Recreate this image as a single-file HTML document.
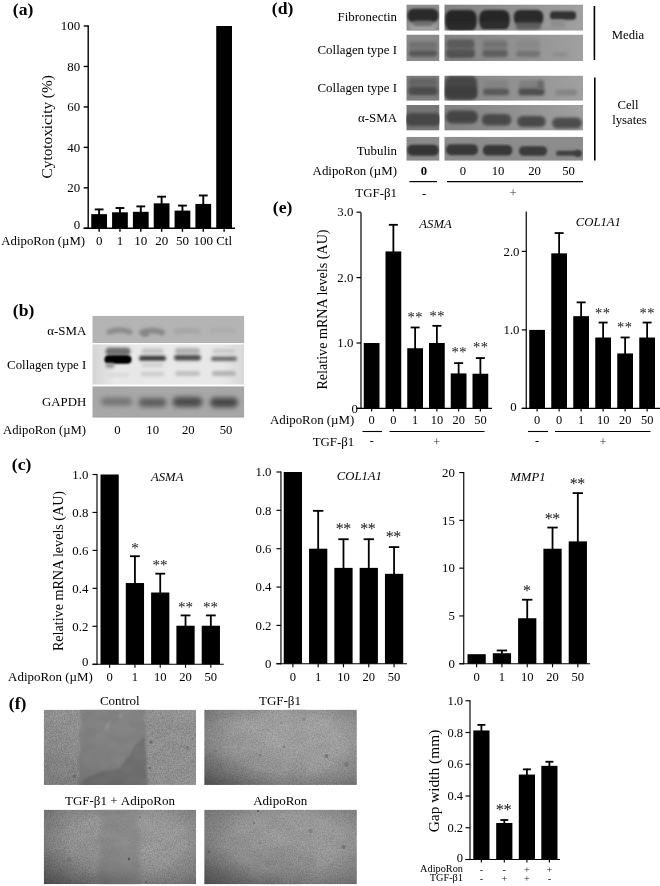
<!DOCTYPE html>
<html lang="en"><head><meta charset="utf-8"><title>AdipoRon figure</title>
<style>html,body{margin:0;padding:0;background:#fff}svg{display:block}text{font-family:'Liberation Serif', 'Times New Roman', serif}</style>
</head><body>
<svg width="660" height="886" viewBox="0 0 660 886">
<defs>
<filter id="b0" x="-50%" y="-50%" width="200%" height="200%"><feGaussianBlur stdDeviation="0.55"/></filter>
<filter id="b1" filterUnits="userSpaceOnUse" x="0" y="0" width="660" height="886"><feGaussianBlur stdDeviation="1.2"/></filter>
<filter id="b2" filterUnits="userSpaceOnUse" x="0" y="0" width="660" height="886"><feGaussianBlur stdDeviation="1.8"/></filter>
<filter id="b3" filterUnits="userSpaceOnUse" x="0" y="0" width="660" height="886"><feGaussianBlur stdDeviation="2.6"/></filter>
<filter id="tex" x="0" y="0" width="100%" height="100%" color-interpolation-filters="sRGB">
  <feTurbulence type="fractalNoise" baseFrequency="0.75" numOctaves="2" seed="3"/>
  <feColorMatrix type="matrix" values="1.6 0 0 0 -0.13  1.6 0 0 0 -0.13  1.6 0 0 0 -0.13  0 0 0 0 1"/>
</filter>
<filter id="tex2" x="0" y="0" width="100%" height="100%" color-interpolation-filters="sRGB">
  <feTurbulence type="fractalNoise" baseFrequency="0.06 0.09" numOctaves="2" seed="11"/>
  <feColorMatrix type="matrix" values="2.2 0 0 0 -0.6  2.2 0 0 0 -0.6  2.2 0 0 0 -0.6  0 0 0 0 1"/>
</filter>
<linearGradient id="mC" x1="0" y1="0" x2="1" y2="0"><stop offset="0" stop-color="#fff"/><stop offset="0.22" stop-color="#fff"/><stop offset="0.27" stop-color="#000"/><stop offset="0.66" stop-color="#000"/><stop offset="0.71" stop-color="#fff"/><stop offset="1" stop-color="#fff"/></linearGradient>
<linearGradient id="gA" x1="0" y1="1" x2="1" y2="0"><stop offset="0" stop-color="#6e6e6e"/><stop offset="0.45" stop-color="#8e8e8e"/><stop offset="1" stop-color="#a2a2a2"/></linearGradient>
<linearGradient id="gB" x1="0" y1="1" x2="1" y2="0"><stop offset="0" stop-color="#6a6a6a"/><stop offset="0.5" stop-color="#8a8a8a"/><stop offset="1" stop-color="#9c9c9c"/></linearGradient>
<linearGradient id="gC" x1="0" y1="0" x2="1" y2="0"><stop offset="0" stop-color="#8c8c8c"/><stop offset="0.28" stop-color="#8a8a8a"/><stop offset="0.34" stop-color="#848484"/><stop offset="0.66" stop-color="#848484"/><stop offset="0.72" stop-color="#8e8e8e"/><stop offset="1" stop-color="#969696"/></linearGradient>
<linearGradient id="gD" x1="0" y1="0" x2="1" y2="0"><stop offset="0" stop-color="#828282"/><stop offset="1" stop-color="#a0a0a0"/></linearGradient>
<linearGradient id="gE" x1="0" y1="0" x2="1" y2="0"><stop offset="0" stop-color="#d4d4d4"/><stop offset="0.15" stop-color="#e8e8e8"/><stop offset="0.85" stop-color="#e8e8e8"/><stop offset="1" stop-color="#d8d8d8"/></linearGradient>
</defs>
<rect width="660" height="886" fill="#fff"/>
<text x="12.8" y="15.2" font-size="17.6" font-weight="bold">(a)</text>
<text x="12.8" y="316" font-size="17.6" font-weight="bold">(b)</text>
<text x="11.8" y="469.8" font-size="17.6" font-weight="bold">(c)</text>
<text x="271.8" y="14.2" font-size="17.6" font-weight="bold">(d)</text>
<text x="272.8" y="212.8" font-size="17.6" font-weight="bold">(e)</text>
<text x="8.8" y="709.3" font-size="17.6" font-weight="bold">(f)</text>
<rect x="91.25" y="214.14" width="15.75" height="14.16" fill="#000"/>
<line x1="99.125" y1="208.87920000000003" x2="99.125" y2="215.139" stroke="#000" stroke-width="1.9"/>
<line x1="94.725" y1="209.4292" x2="103.525" y2="209.4292" stroke="#000" stroke-width="1.9"/>
<line x1="99.125" y1="228.3" x2="99.125" y2="231.8" stroke="#000" stroke-width="1.4"/>
<rect x="112.08" y="212.32" width="15.75" height="15.98" fill="#000"/>
<line x1="119.955" y1="207.4631" x2="119.955" y2="213.31830000000002" stroke="#000" stroke-width="1.9"/>
<line x1="115.55499999999999" y1="208.01309999999998" x2="124.355" y2="208.01309999999998" stroke="#000" stroke-width="1.9"/>
<line x1="119.955" y1="228.3" x2="119.955" y2="231.8" stroke="#000" stroke-width="1.4"/>
<rect x="132.91" y="211.81" width="15.75" height="16.49" fill="#000"/>
<line x1="140.785" y1="205.84470000000002" x2="140.785" y2="212.81255000000002" stroke="#000" stroke-width="1.9"/>
<line x1="136.385" y1="206.3947" x2="145.185" y2="206.3947" stroke="#000" stroke-width="1.9"/>
<line x1="140.785" y1="228.3" x2="140.785" y2="231.8" stroke="#000" stroke-width="1.4"/>
<rect x="153.74" y="203.32" width="15.75" height="24.98" fill="#000"/>
<line x1="161.615" y1="196.1343" x2="161.615" y2="204.31595000000002" stroke="#000" stroke-width="1.9"/>
<line x1="157.215" y1="196.68429999999998" x2="166.01500000000001" y2="196.68429999999998" stroke="#000" stroke-width="1.9"/>
<line x1="161.615" y1="228.3" x2="161.615" y2="231.8" stroke="#000" stroke-width="1.4"/>
<rect x="174.57" y="210.60" width="15.75" height="17.70" fill="#000"/>
<line x1="182.445" y1="205.0355" x2="182.445" y2="211.59875" stroke="#000" stroke-width="1.9"/>
<line x1="178.045" y1="205.5855" x2="186.845" y2="205.5855" stroke="#000" stroke-width="1.9"/>
<line x1="182.445" y1="228.3" x2="182.445" y2="231.8" stroke="#000" stroke-width="1.4"/>
<rect x="195.40" y="203.92" width="15.75" height="24.38" fill="#000"/>
<line x1="203.27499999999998" y1="194.9205" x2="203.27499999999998" y2="204.92285" stroke="#000" stroke-width="1.9"/>
<line x1="198.87499999999997" y1="195.4705" x2="207.67499999999998" y2="195.4705" stroke="#000" stroke-width="1.9"/>
<line x1="203.27499999999998" y1="228.3" x2="203.27499999999998" y2="231.8" stroke="#000" stroke-width="1.4"/>
<rect x="216.23" y="26.00" width="15.75" height="202.30" fill="#000"/>
<line x1="224.105" y1="228.3" x2="224.105" y2="231.8" stroke="#000" stroke-width="1.4"/>
<line x1="88.2" y1="25.3" x2="88.2" y2="229.0" stroke="#000" stroke-width="1.4"/>
<line x1="83.7" y1="228.3" x2="235" y2="228.3" stroke="#000" stroke-width="1.4"/>
<line x1="83.7" y1="228.3" x2="88.2" y2="228.3" stroke="#000" stroke-width="1.4"/>
<text x="80.2" y="228.55700000000002" font-size="12.9" text-anchor="end">0</text>
<line x1="83.7" y1="187.84" x2="88.2" y2="187.84" stroke="#000" stroke-width="1.4"/>
<text x="80.2" y="192.097" font-size="12.9" text-anchor="end">20</text>
<line x1="83.7" y1="147.38" x2="88.2" y2="147.38" stroke="#000" stroke-width="1.4"/>
<text x="80.2" y="151.637" font-size="12.9" text-anchor="end">40</text>
<line x1="83.7" y1="106.92" x2="88.2" y2="106.92" stroke="#000" stroke-width="1.4"/>
<text x="80.2" y="111.177" font-size="12.9" text-anchor="end">60</text>
<line x1="83.7" y1="66.46000000000001" x2="88.2" y2="66.46000000000001" stroke="#000" stroke-width="1.4"/>
<text x="80.2" y="70.71700000000001" font-size="12.9" text-anchor="end">80</text>
<line x1="83.7" y1="26.0" x2="88.2" y2="26.0" stroke="#000" stroke-width="1.4"/>
<text x="80.2" y="30.257" font-size="12.9" text-anchor="end">100</text>
<text x="1.3" y="245.1" font-size="12.8">AdipoRon (µM)</text>
<text x="99.15" y="244.9" font-size="13" text-anchor="middle">0</text>
<text x="119.98" y="244.9" font-size="13" text-anchor="middle">1</text>
<text x="140.81" y="244.9" font-size="13" text-anchor="middle">10</text>
<text x="161.64000000000001" y="244.9" font-size="13" text-anchor="middle">20</text>
<text x="182.47" y="244.9" font-size="13" text-anchor="middle">50</text>
<text x="203.29999999999998" y="244.9" font-size="13" text-anchor="middle">100</text>
<text x="224.13" y="244.9" font-size="13" text-anchor="middle">Ctl</text>
<text x="52.2" y="126.8" font-size="15.3" text-anchor="middle" transform="rotate(-90 52.2 126.8)">Cytotoxicity (%)</text>
<clipPath id="cb1"><rect x="92.3" y="315.7" width="152" height="27.5"/></clipPath>
<g clip-path="url(#cb1)">
<rect x="92.30" y="315.70" width="152.00" height="27.50" fill="#b4b4b4"/>
<path d="M109.2 332.0 Q119.5 328.0 129.8 332.0" stroke="#8c8c8c" stroke-width="5.5" stroke-linecap="round" fill="none" filter="url(#b2)"/>
<path d="M142.0 332.5 Q152.0 328.5 162.0 332.5" stroke="#898989" stroke-width="6" stroke-linecap="round" fill="none" filter="url(#b2)"/>
<path d="M144.5 334.0 Q145.5 334.0 146.5 334.0" stroke="#848484" stroke-width="5" stroke-linecap="round" fill="none" filter="url(#b2)"/>
<path d="M176.2 331.5 Q187.0 329.5 197.8 331.5" stroke="#a6a6a6" stroke-width="5.5" stroke-linecap="round" fill="none" filter="url(#b2)"/>
<path d="M212.2 330.5 Q223.0 329.5 233.8 330.5" stroke="#acacac" stroke-width="4.5" stroke-linecap="round" fill="none" filter="url(#b2)"/>
</g>
<clipPath id="cb2"><rect x="92.3" y="344.2" width="152" height="40.6"/></clipPath>
<g clip-path="url(#cb2)">
<rect x="92.30" y="344.20" width="152.00" height="40.60" fill="url(#gE)"/>
<path d="M109.5 351.5 Q118.0 351.5 126.5 351.5" stroke="#6e6e6e" stroke-width="8" stroke-linecap="round" fill="none" filter="url(#b2)"/>
<path d="M108.5 359.5 Q118.0 359.5 127.5 359.5" stroke="#000" stroke-width="8" stroke-linecap="round" fill="none" filter="url(#b1)"/>
<path d="M109.0 359.5 Q118.0 359.5 127.0 359.5" stroke="#000" stroke-width="6" stroke-linecap="round" fill="none" filter="url(#b1)"/>
<path d="M108.0 365.5 Q110.0 365.5 112.0 365.5" stroke="#999" stroke-width="5" stroke-linecap="round" fill="none" filter="url(#b2)"/>
<path d="M109.0 375.0 Q118.0 375.0 127.0 375.0" stroke="#dadada" stroke-width="4" stroke-linecap="round" fill="none" filter="url(#b2)"/>
<path d="M144.0 351.0 Q152.5 351.0 161.0 351.0" stroke="#c2c2c2" stroke-width="5" stroke-linecap="round" fill="none" filter="url(#b2)"/>
<path d="M141.5 358.3 Q152.5 358.3 163.5 358.3" stroke="#383838" stroke-width="5" stroke-linecap="round" fill="none" filter="url(#b2)"/>
<path d="M143.5 365.0 Q152.5 365.0 161.5 365.0" stroke="#d0d0d0" stroke-width="4" stroke-linecap="round" fill="none" filter="url(#b2)"/>
<path d="M142.8 374.0 Q152.5 374.0 162.2 374.0" stroke="#cecece" stroke-width="4.5" stroke-linecap="round" fill="none" filter="url(#b2)"/>
<path d="M178.0 351.0 Q187.5 351.0 197.0 351.0" stroke="#b0b0b0" stroke-width="6" stroke-linecap="round" fill="none" filter="url(#b2)"/>
<path d="M176.8 357.7 Q187.5 357.7 198.2 357.7" stroke="#4c4c4c" stroke-width="5.5" stroke-linecap="round" fill="none" filter="url(#b2)"/>
<path d="M177.5 373.5 Q187.5 373.5 197.5 373.5" stroke="#c0c0c0" stroke-width="5" stroke-linecap="round" fill="none" filter="url(#b2)"/>
<path d="M215.0 351.0 Q224.0 351.0 233.0 351.0" stroke="#cacaca" stroke-width="5" stroke-linecap="round" fill="none" filter="url(#b2)"/>
<path d="M213.2 358.7 Q224.0 358.7 234.8 358.7" stroke="#6a6a6a" stroke-width="4.5" stroke-linecap="round" fill="none" filter="url(#b2)"/>
<path d="M214.5 373.5 Q224.0 373.5 233.5 373.5" stroke="#b2b2b2" stroke-width="5" stroke-linecap="round" fill="none" filter="url(#b2)"/>
</g>
<clipPath id="cb3"><rect x="92.3" y="386.2" width="152" height="31.6"/></clipPath>
<g clip-path="url(#cb3)">
<rect x="92.30" y="386.20" width="152.00" height="31.60" fill="#a7a7a7"/>
<path d="M104.8 401.5 Q116.5 401.5 128.2 401.5" stroke="#727272" stroke-width="7.5" stroke-linecap="round" fill="none" filter="url(#b3)"/>
<path d="M143.0 402.5 Q152.5 402.5 162.0 402.5" stroke="#5e5e5e" stroke-width="9" stroke-linecap="round" fill="none" filter="url(#b3)"/>
<path d="M177.5 402.0 Q187.5 402.0 197.5 402.0" stroke="#4c4c4c" stroke-width="10" stroke-linecap="round" fill="none" filter="url(#b3)"/>
<path d="M215.0 402.5 Q224.0 402.5 233.0 402.5" stroke="#464646" stroke-width="10" stroke-linecap="round" fill="none" filter="url(#b3)"/>
</g>
<text x="86.3" y="334.5" font-size="12.9" text-anchor="end">α-SMA</text>
<text x="86.3" y="368.7" font-size="12.85" text-anchor="end">Collagen type I</text>
<text x="86.3" y="406" font-size="12.85" text-anchor="end">GAPDH</text>
<text x="3" y="434" font-size="12.7">AdipoRon (µM)</text>
<text x="117.4" y="434" font-size="12.7" text-anchor="middle">0</text>
<text x="152.7" y="434" font-size="12.7" text-anchor="middle">10</text>
<text x="188.3" y="434" font-size="12.7" text-anchor="middle">20</text>
<text x="226" y="434" font-size="12.7" text-anchor="middle">50</text>
<clipPath id="cd1"><rect x="406.3" y="4.4" width="33.2" height="26.3"/></clipPath>
<g clip-path="url(#cd1)">
<rect x="406.30" y="4.40" width="33.20" height="26.30" fill="#8e8e8e"/>
<rect x="410.0" y="24.0" width="26.0" height="6.0" rx="3.0" fill="#a4a4a4" filter="url(#b2)"/>
<rect x="407.5" y="8.8" width="31.0" height="13.5" rx="6" fill="#2a2a2a" filter="url(#b1)"/>
<rect x="413.0" y="21.0" width="20.0" height="5.0" rx="2.5" fill="#6c6c6c" filter="url(#b2)"/>
</g>
<clipPath id="cd2"><rect x="444.3" y="4.4" width="138.8" height="26.3"/></clipPath>
<g clip-path="url(#cd2)">
<rect x="444.30" y="4.40" width="138.80" height="26.30" fill="url(#gD)"/>
<rect x="445.2" y="10.0" width="31.5" height="19.0" rx="7" fill="#262626" filter="url(#b1)"/>
<rect x="447.0" y="22.0" width="28.0" height="8.0" rx="3" fill="#2c2c2c" filter="url(#b1)"/>
<rect x="479.2" y="10.0" width="30.5" height="18.0" rx="7" fill="#262626" filter="url(#b1)"/>
<rect x="481.0" y="21.0" width="27.0" height="8.0" rx="3" fill="#2e2e2e" filter="url(#b1)"/>
<rect x="513.8" y="10.0" width="29.5" height="15.0" rx="6" fill="#2a2a2a" filter="url(#b1)"/>
<rect x="516.0" y="22.5" width="25.0" height="7.0" rx="3" fill="#5c5c5c" filter="url(#b2)"/>
<rect x="550.0" y="11.2" width="26.0" height="8.5" rx="3.5" fill="#303030" filter="url(#b1)"/>
<rect x="551.0" y="20.0" width="14.0" height="8.0" rx="3" fill="#8e8e8e" filter="url(#b2)"/>
</g>
<clipPath id="cd3"><rect x="406.3" y="34.5" width="33.2" height="26.5"/></clipPath>
<g clip-path="url(#cd3)">
<rect x="406.30" y="34.50" width="33.20" height="26.50" fill="#8a8a8a"/>
<rect x="409.0" y="41.5" width="28.0" height="15.0" rx="3" fill="#7a7a7a" filter="url(#b2)"/>
<rect x="409.5" y="42.5" width="27.0" height="5.0" rx="2.5" fill="#707070" filter="url(#b2)"/>
<rect x="409.0" y="50.5" width="28.0" height="6.0" rx="3.0" fill="#565656" filter="url(#b2)"/>
</g>
<clipPath id="cd4"><rect x="444.3" y="34.5" width="138.8" height="26.5"/></clipPath>
<g clip-path="url(#cd4)">
<rect x="444.30" y="34.50" width="138.80" height="26.50" fill="url(#gD)"/>
<rect x="447.0" y="40.0" width="27.0" height="8.0" rx="3" fill="#5c5c5c" filter="url(#b2)"/>
<rect x="446.5" y="49.5" width="28.0" height="8.0" rx="3" fill="#484848" filter="url(#b2)"/>
<rect x="447.5" y="40.0" width="26.0" height="16.0" rx="3" fill="#5a5a5a" filter="url(#b2)" opacity="0.6"/>
<rect x="483.0" y="39.5" width="24.0" height="17.0" rx="3" fill="#808080" filter="url(#b2)"/>
<rect x="483.0" y="41.5" width="24.0" height="6.0" rx="3.0" fill="#727272" filter="url(#b2)"/>
<rect x="482.5" y="50.0" width="25.0" height="7.0" rx="3" fill="#5e5e5e" filter="url(#b2)"/>
<rect x="516.5" y="38.5" width="23.0" height="17.0" rx="3" fill="#8c8c8c" filter="url(#b2)"/>
<rect x="516.5" y="42.5" width="23.0" height="5.0" rx="2.5" fill="#888" filter="url(#b2)"/>
<rect x="516.0" y="51.0" width="24.0" height="6.0" rx="3.0" fill="#727272" filter="url(#b2)"/>
<rect x="552.0" y="52.5" width="16.0" height="4.0" rx="2.0" fill="#8c8c8c" filter="url(#b2)"/>
</g>
<clipPath id="cd5"><rect x="406.3" y="75.6" width="33.2" height="25.2"/></clipPath>
<g clip-path="url(#cd5)">
<rect x="406.30" y="75.60" width="33.20" height="25.20" fill="#7e7e7e"/>
<rect x="409.0" y="78.0" width="28.0" height="16.0" rx="3" fill="#6c6c6c" filter="url(#b2)"/>
<rect x="409.5" y="79.5" width="27.0" height="5.0" rx="2.5" fill="#626262" filter="url(#b2)"/>
<rect x="408.5" y="87.0" width="29.0" height="8.0" rx="3" fill="#4c4c4c" filter="url(#b2)"/>
</g>
<clipPath id="cd6"><rect x="444.3" y="75.6" width="138.8" height="25.2"/></clipPath>
<g clip-path="url(#cd6)">
<rect x="444.30" y="75.60" width="138.80" height="25.20" fill="url(#gD)"/>
<rect x="445.0" y="76.0" width="32.0" height="24.0" rx="6" fill="#464646" filter="url(#b2)"/>
<rect x="445.5" y="86.5" width="31.0" height="11.0" rx="3" fill="#3c3c3c" filter="url(#b2)"/>
<rect x="484.0" y="80.0" width="24.0" height="12.0" rx="3" fill="#848484" filter="url(#b2)"/>
<rect x="483.0" y="88.8" width="26.0" height="6.5" rx="3" fill="#585858" filter="url(#b2)"/>
<rect x="519.0" y="80.0" width="25.0" height="12.0" rx="3" fill="#808080" filter="url(#b2)"/>
<rect x="518.5" y="88.5" width="26.0" height="7.0" rx="3" fill="#4e4e4e" filter="url(#b2)"/>
<rect x="537.5" y="80.5" width="6.0" height="9.0" rx="3" fill="#686868" filter="url(#b2)"/>
<rect x="555.0" y="89.5" width="22.0" height="6.0" rx="3.0" fill="#858585" filter="url(#b2)"/>
</g>
<clipPath id="cd7"><rect x="406.3" y="105" width="33.2" height="25.6"/></clipPath>
<g clip-path="url(#cd7)">
<rect x="406.30" y="105.00" width="33.20" height="25.60" fill="#767676"/>
<rect x="405.0" y="113.0" width="36.0" height="13.0" rx="6" fill="#464646" filter="url(#b2)"/>
</g>
<clipPath id="cd8"><rect x="444.3" y="105" width="138.8" height="25.6"/></clipPath>
<g clip-path="url(#cd8)">
<rect x="444.30" y="105.00" width="138.80" height="25.60" fill="url(#gD)"/>
<rect x="446.0" y="110.5" width="32.0" height="13.0" rx="6" fill="#444" filter="url(#b2)"/>
<rect x="481.8" y="114.0" width="29.5" height="11.5" rx="5.5" fill="#484848" filter="url(#b2)"/>
<rect x="517.2" y="116.0" width="28.5" height="11.0" rx="5.5" fill="#4a4a4a" filter="url(#b2)"/>
<rect x="552.0" y="117.5" width="30.0" height="11.0" rx="5.5" fill="#4e4e4e" filter="url(#b2)"/>
</g>
<clipPath id="cd9"><rect x="406.3" y="136.8" width="33.2" height="24"/></clipPath>
<g clip-path="url(#cd9)">
<rect x="406.30" y="136.80" width="33.20" height="24.00" fill="#8a8a8a"/>
<rect x="407.2" y="144.8" width="31.5" height="11.0" rx="5" fill="#363636" filter="url(#b1)"/>
</g>
<clipPath id="cd10"><rect x="444.3" y="136.8" width="138.8" height="24"/></clipPath>
<g clip-path="url(#cd10)">
<rect x="444.30" y="136.80" width="138.80" height="24.00" fill="#8c8c8c"/>
<rect x="446.0" y="144.3" width="32.0" height="11.0" rx="5" fill="#383838" filter="url(#b1)"/>
<rect x="482.8" y="145.1" width="29.5" height="10.5" rx="5" fill="#383838" filter="url(#b1)"/>
<rect x="519.0" y="146.2" width="28.0" height="9.5" rx="4.5" fill="#3a3a3a" filter="url(#b1)"/>
<rect x="556.0" y="150.8" width="25.0" height="5.0" rx="2.5" fill="#404040" filter="url(#b1)"/>
<rect x="574.5" y="150.2" width="7.0" height="6.5" rx="3" fill="#3c3c3c" filter="url(#b1)"/>
</g>
<text x="397" y="21.4" font-size="12.9" text-anchor="end">Fibronectin</text>
<text x="397" y="54.4" font-size="12.9" text-anchor="end">Collagen type I</text>
<text x="397" y="92.4" font-size="12.9" text-anchor="end">Collagen type I</text>
<text x="397" y="122.10000000000001" font-size="12.9" text-anchor="end">α-SMA</text>
<text x="397" y="155.4" font-size="12.9" text-anchor="end">Tubulin</text>
<text x="397" y="175.4" font-size="12.9" text-anchor="end">AdipoRon (µM)</text>
<text x="397" y="197.4" font-size="12.9" text-anchor="end">TGF-β1</text>
<line x1="594.4" y1="6" x2="594.4" y2="60" stroke="#000" stroke-width="1.6"/>
<line x1="594.8" y1="77.5" x2="594.8" y2="160.5" stroke="#000" stroke-width="1.6"/>
<text x="628" y="39" font-size="12.7" text-anchor="middle">Media</text>
<text x="628" y="109" font-size="12.7" text-anchor="middle">Cell</text>
<text x="629.5" y="124" font-size="12.7" text-anchor="middle">lysates</text>
<text x="424" y="175" font-size="12.7" text-anchor="middle" font-weight="bold">0</text>
<text x="463" y="175" font-size="12.7" text-anchor="middle">0</text>
<text x="498" y="175" font-size="12.7" text-anchor="middle">10</text>
<text x="534.5" y="175" font-size="12.7" text-anchor="middle">20</text>
<text x="568.5" y="175" font-size="12.7" text-anchor="middle">50</text>
<line x1="409.5" y1="181.6" x2="437" y2="181.6" stroke="#000" stroke-width="1.2"/>
<line x1="447" y1="181.6" x2="583" y2="181.6" stroke="#000" stroke-width="1.2"/>
<text x="424" y="196.5" font-size="12.7" text-anchor="middle">-</text>
<text x="513" y="197" font-size="12.7" text-anchor="middle" fill="#333">+</text>
<rect x="363.75" y="343.00" width="15.75" height="65.40" fill="#000"/>
<line x1="371.625" y1="408.4" x2="371.625" y2="411.4" stroke="#000" stroke-width="1.2"/>
<rect x="385.50" y="251.44" width="15.75" height="156.96" fill="#000"/>
<line x1="393.375" y1="224.29899999999998" x2="393.375" y2="252.43999999999997" stroke="#000" stroke-width="1.8"/>
<line x1="388.875" y1="224.79899999999998" x2="397.875" y2="224.79899999999998" stroke="#000" stroke-width="1.8"/>
<line x1="393.375" y1="408.4" x2="393.375" y2="411.4" stroke="#000" stroke-width="1.2"/>
<rect x="407.25" y="348.23" width="15.75" height="60.17" fill="#000"/>
<line x1="415.125" y1="326.977" x2="415.125" y2="349.23199999999997" stroke="#000" stroke-width="1.8"/>
<line x1="410.625" y1="327.477" x2="419.625" y2="327.477" stroke="#000" stroke-width="1.8"/>
<line x1="415.125" y1="408.4" x2="415.125" y2="411.4" stroke="#000" stroke-width="1.2"/>
<rect x="429.00" y="343.00" width="15.75" height="65.40" fill="#000"/>
<line x1="436.875" y1="325.342" x2="436.875" y2="344.0" stroke="#000" stroke-width="1.8"/>
<line x1="432.375" y1="325.842" x2="441.375" y2="325.842" stroke="#000" stroke-width="1.8"/>
<line x1="436.875" y1="408.4" x2="436.875" y2="411.4" stroke="#000" stroke-width="1.2"/>
<rect x="450.75" y="373.41" width="15.75" height="34.99" fill="#000"/>
<line x1="458.625" y1="362.62" x2="458.625" y2="374.41099999999994" stroke="#000" stroke-width="1.8"/>
<line x1="454.125" y1="363.12" x2="463.125" y2="363.12" stroke="#000" stroke-width="1.8"/>
<line x1="458.625" y1="408.4" x2="458.625" y2="411.4" stroke="#000" stroke-width="1.2"/>
<rect x="472.50" y="373.74" width="15.75" height="34.66" fill="#000"/>
<line x1="480.375" y1="357.58419999999995" x2="480.375" y2="374.73799999999994" stroke="#000" stroke-width="1.8"/>
<line x1="475.875" y1="358.08419999999995" x2="484.875" y2="358.08419999999995" stroke="#000" stroke-width="1.8"/>
<line x1="480.375" y1="408.4" x2="480.375" y2="411.4" stroke="#000" stroke-width="1.2"/>
<line x1="361" y1="212.4" x2="361" y2="409.0" stroke="#000" stroke-width="1.2"/>
<line x1="356.5" y1="408.4" x2="492" y2="408.4" stroke="#000" stroke-width="1.2"/>
<line x1="356.5" y1="408.4" x2="361" y2="408.4" stroke="#000" stroke-width="1.2"/>
<text x="357.90000000000003" y="412.924" font-size="12.8" text-anchor="end">0</text>
<line x1="356.5" y1="343.0" x2="361" y2="343.0" stroke="#000" stroke-width="1.2"/>
<text x="353.3" y="347.224" font-size="12.8" text-anchor="end">1.0</text>
<line x1="356.5" y1="277.59999999999997" x2="361" y2="277.59999999999997" stroke="#000" stroke-width="1.2"/>
<text x="353.3" y="281.82399999999996" font-size="12.8" text-anchor="end">2.0</text>
<line x1="356.5" y1="212.19999999999996" x2="361" y2="212.19999999999996" stroke="#000" stroke-width="1.2"/>
<text x="353.3" y="216.42399999999995" font-size="12.8" text-anchor="end">3.0</text>
<text x="419.3" y="227.6" font-size="12.7" font-style="italic">ASMA</text>
<text x="327.3" y="309.5" font-size="14.1" text-anchor="middle" transform="rotate(-90 327.3 309.5)">Relative mRNA levels (AU)</text>
<text x="354.3" y="424.2" font-size="12.9" text-anchor="end">AdipoRon (µM)</text>
<text x="371.65" y="424.2" font-size="12.4" text-anchor="middle">0</text>
<text x="393.4" y="424.2" font-size="12.4" text-anchor="middle">0</text>
<text x="415.15" y="424.2" font-size="12.4" text-anchor="middle">1</text>
<text x="436.9" y="424.2" font-size="12.4" text-anchor="middle">10</text>
<text x="458.65" y="424.2" font-size="12.4" text-anchor="middle">20</text>
<text x="480.4" y="424.2" font-size="12.4" text-anchor="middle">50</text>
<line x1="362.5" y1="431.5" x2="382" y2="431.5" stroke="#000" stroke-width="1.1"/>
<line x1="389.5" y1="431.5" x2="484.5" y2="431.5" stroke="#000" stroke-width="1.1"/>
<text x="354.3" y="446.3" font-size="12.9" text-anchor="end">TGF-β1</text>
<text x="371.7" y="443.6" font-size="12.4" text-anchor="middle">-</text>
<text x="436.7" y="445.5" font-size="12.4" text-anchor="middle" fill="#333">+</text>
<text x="415.15" y="322.4525" font-size="14.5" text-anchor="middle" fill="#111" letter-spacing="0.3">**</text>
<text x="437.15" y="321.1525" font-size="14.5" text-anchor="middle" fill="#111" letter-spacing="0.3">**</text>
<text x="459.15" y="357.1525" font-size="14.5" text-anchor="middle" fill="#111" letter-spacing="0.3">**</text>
<text x="480.65" y="352.1525" font-size="14.5" text-anchor="middle" fill="#111" letter-spacing="0.3">**</text>
<rect x="529.25" y="329.90" width="15.75" height="78.50" fill="#000"/>
<line x1="537.125" y1="408.4" x2="537.125" y2="411.4" stroke="#000" stroke-width="1.2"/>
<rect x="551.25" y="253.36" width="15.75" height="155.04" fill="#000"/>
<line x1="559.125" y1="232.55999999999997" x2="559.125" y2="254.36249999999998" stroke="#000" stroke-width="1.8"/>
<line x1="554.625" y1="233.05999999999997" x2="563.625" y2="233.05999999999997" stroke="#000" stroke-width="1.8"/>
<line x1="559.125" y1="408.4" x2="559.125" y2="411.4" stroke="#000" stroke-width="1.2"/>
<rect x="573.25" y="316.16" width="15.75" height="92.24" fill="#000"/>
<line x1="581.125" y1="301.8755" x2="581.125" y2="317.16249999999997" stroke="#000" stroke-width="1.8"/>
<line x1="576.625" y1="302.3755" x2="585.625" y2="302.3755" stroke="#000" stroke-width="1.8"/>
<line x1="581.125" y1="408.4" x2="581.125" y2="411.4" stroke="#000" stroke-width="1.2"/>
<rect x="595.25" y="337.51" width="15.75" height="70.89" fill="#000"/>
<line x1="603.125" y1="322.04999999999995" x2="603.125" y2="338.5145" stroke="#000" stroke-width="1.8"/>
<line x1="598.625" y1="322.54999999999995" x2="607.625" y2="322.54999999999995" stroke="#000" stroke-width="1.8"/>
<line x1="603.125" y1="408.4" x2="603.125" y2="411.4" stroke="#000" stroke-width="1.2"/>
<rect x="617.25" y="353.45" width="15.75" height="54.95" fill="#000"/>
<line x1="625.125" y1="336.965" x2="625.125" y2="354.45" stroke="#000" stroke-width="1.8"/>
<line x1="620.625" y1="337.465" x2="629.625" y2="337.465" stroke="#000" stroke-width="1.8"/>
<line x1="625.125" y1="408.4" x2="625.125" y2="411.4" stroke="#000" stroke-width="1.2"/>
<rect x="639.25" y="337.51" width="15.75" height="70.89" fill="#000"/>
<line x1="647.125" y1="322.04999999999995" x2="647.125" y2="338.5145" stroke="#000" stroke-width="1.8"/>
<line x1="642.625" y1="322.54999999999995" x2="651.625" y2="322.54999999999995" stroke="#000" stroke-width="1.8"/>
<line x1="647.125" y1="408.4" x2="647.125" y2="411.4" stroke="#000" stroke-width="1.2"/>
<line x1="526.25" y1="211.4" x2="526.25" y2="409.0" stroke="#000" stroke-width="1.2"/>
<line x1="521.75" y1="408.4" x2="660" y2="408.4" stroke="#000" stroke-width="1.2"/>
<line x1="521.75" y1="408.4" x2="526.25" y2="408.4" stroke="#000" stroke-width="1.2"/>
<text x="516.7" y="411.02399999999994" font-size="12.8" text-anchor="end">0</text>
<line x1="521.75" y1="329.9" x2="526.25" y2="329.9" stroke="#000" stroke-width="1.2"/>
<text x="519.5" y="334.12399999999997" font-size="12.8" text-anchor="end">1.0</text>
<line x1="521.75" y1="251.39999999999998" x2="526.25" y2="251.39999999999998" stroke="#000" stroke-width="1.2"/>
<text x="519.5" y="255.62399999999997" font-size="12.8" text-anchor="end">2.0</text>
<text x="575.8" y="226.2" font-size="12.7" font-style="italic">COL1A1</text>
<text x="537.15" y="424.2" font-size="12.4" text-anchor="middle">0</text>
<text x="559.15" y="424.2" font-size="12.4" text-anchor="middle">0</text>
<text x="581.15" y="424.2" font-size="12.4" text-anchor="middle">1</text>
<text x="603.15" y="424.2" font-size="12.4" text-anchor="middle">10</text>
<text x="625.15" y="424.2" font-size="12.4" text-anchor="middle">20</text>
<text x="647.15" y="424.2" font-size="12.4" text-anchor="middle">50</text>
<line x1="528" y1="431.5" x2="548" y2="431.5" stroke="#000" stroke-width="1.1"/>
<line x1="555" y1="431.5" x2="650.5" y2="431.5" stroke="#000" stroke-width="1.1"/>
<text x="537" y="443.6" font-size="12.4" text-anchor="middle">-</text>
<text x="603" y="445.5" font-size="12.4" text-anchor="middle" fill="#333">+</text>
<text x="602.65" y="318.1525" font-size="14.5" text-anchor="middle" fill="#111" letter-spacing="0.3">**</text>
<text x="624.65" y="332.1525" font-size="14.5" text-anchor="middle" fill="#111" letter-spacing="0.3">**</text>
<text x="647.15" y="318.1525" font-size="14.5" text-anchor="middle" fill="#111" letter-spacing="0.3">**</text>
<rect x="100.50" y="474.50" width="18.25" height="189.75" fill="#000"/>
<line x1="109.625" y1="664.25" x2="109.625" y2="667.75" stroke="#000" stroke-width="1.15"/>
<rect x="125.80" y="583.04" width="18.25" height="81.21" fill="#000"/>
<line x1="134.925" y1="555.713" x2="134.925" y2="584.037" stroke="#000" stroke-width="1.8"/>
<line x1="130.025" y1="556.213" x2="139.82500000000002" y2="556.213" stroke="#000" stroke-width="1.8"/>
<line x1="134.925" y1="664.25" x2="134.925" y2="667.75" stroke="#000" stroke-width="1.15"/>
<rect x="151.10" y="592.52" width="18.25" height="71.73" fill="#000"/>
<line x1="160.225" y1="573.17" x2="160.225" y2="593.5245" stroke="#000" stroke-width="1.8"/>
<line x1="155.325" y1="573.67" x2="165.125" y2="573.67" stroke="#000" stroke-width="1.8"/>
<line x1="160.225" y1="664.25" x2="160.225" y2="667.75" stroke="#000" stroke-width="1.15"/>
<rect x="176.40" y="625.73" width="18.25" height="38.52" fill="#000"/>
<line x1="185.525" y1="614.915" x2="185.525" y2="626.73075" stroke="#000" stroke-width="1.8"/>
<line x1="180.625" y1="615.415" x2="190.425" y2="615.415" stroke="#000" stroke-width="1.8"/>
<line x1="185.525" y1="664.25" x2="185.525" y2="667.75" stroke="#000" stroke-width="1.15"/>
<rect x="201.70" y="625.73" width="18.25" height="38.52" fill="#000"/>
<line x1="210.825" y1="614.915" x2="210.825" y2="626.73075" stroke="#000" stroke-width="1.8"/>
<line x1="205.92499999999998" y1="615.415" x2="215.725" y2="615.415" stroke="#000" stroke-width="1.8"/>
<line x1="210.825" y1="664.25" x2="210.825" y2="667.75" stroke="#000" stroke-width="1.15"/>
<line x1="97" y1="473.925" x2="97" y2="664.825" stroke="#000" stroke-width="1.15"/>
<line x1="92.5" y1="664.25" x2="223.75" y2="664.25" stroke="#000" stroke-width="1.15"/>
<line x1="92.5" y1="664.25" x2="97" y2="664.25" stroke="#000" stroke-width="1.15"/>
<text x="88.3" y="666.1740000000001" font-size="12.8" text-anchor="end">0</text>
<line x1="92.5" y1="626.3" x2="97" y2="626.3" stroke="#000" stroke-width="1.15"/>
<text x="88.3" y="630.524" font-size="12.8" text-anchor="end">0.2</text>
<line x1="92.5" y1="588.35" x2="97" y2="588.35" stroke="#000" stroke-width="1.15"/>
<text x="88.3" y="592.5740000000001" font-size="12.8" text-anchor="end">0.4</text>
<line x1="92.5" y1="550.4" x2="97" y2="550.4" stroke="#000" stroke-width="1.15"/>
<text x="88.3" y="554.624" font-size="12.8" text-anchor="end">0.6</text>
<line x1="92.5" y1="512.45" x2="97" y2="512.45" stroke="#000" stroke-width="1.15"/>
<text x="88.3" y="516.6740000000001" font-size="12.8" text-anchor="end">0.8</text>
<line x1="92.5" y1="474.5" x2="97" y2="474.5" stroke="#000" stroke-width="1.15"/>
<text x="88.3" y="478.724" font-size="12.8" text-anchor="end">1.0</text>
<text x="151" y="480.9" font-size="12.7" font-style="italic">ASMA</text>
<text x="63.3" y="571" font-size="14.1" text-anchor="middle" transform="rotate(-90 63.3 571)">Relative mRNA levels (AU)</text>
<text x="8.1" y="680.9" font-size="12.95">AdipoRon (µM)</text>
<text x="109.6" y="680.75" font-size="12.6" text-anchor="middle">0</text>
<text x="134.9" y="680.75" font-size="12.6" text-anchor="middle">1</text>
<text x="160.2" y="680.75" font-size="12.6" text-anchor="middle">10</text>
<text x="185.5" y="680.75" font-size="12.6" text-anchor="middle">20</text>
<text x="210.79999999999998" y="680.75" font-size="12.6" text-anchor="middle">50</text>
<text x="135.0" y="552.875" font-size="15" text-anchor="middle" fill="#111" letter-spacing="0">*</text>
<text x="159.95" y="569.675" font-size="15" text-anchor="middle" fill="#111" letter-spacing="-0.1">**</text>
<text x="185.45" y="611.675" font-size="15" text-anchor="middle" fill="#111" letter-spacing="-0.1">**</text>
<text x="210.45" y="611.675" font-size="15" text-anchor="middle" fill="#111" letter-spacing="-0.1">**</text>
<rect x="283.75" y="472.00" width="18.25" height="191.75" fill="#000"/>
<line x1="292.875" y1="663.75" x2="292.875" y2="667.25" stroke="#000" stroke-width="1.15"/>
<rect x="309.05" y="548.70" width="18.25" height="115.05" fill="#000"/>
<line x1="318.175" y1="510.35" x2="318.175" y2="549.7" stroke="#000" stroke-width="1.8"/>
<line x1="312.975" y1="510.85" x2="323.375" y2="510.85" stroke="#000" stroke-width="1.8"/>
<line x1="318.175" y1="663.75" x2="318.175" y2="667.25" stroke="#000" stroke-width="1.15"/>
<rect x="334.35" y="567.88" width="18.25" height="95.88" fill="#000"/>
<line x1="343.475" y1="538.729" x2="343.475" y2="568.875" stroke="#000" stroke-width="1.8"/>
<line x1="338.27500000000003" y1="539.229" x2="348.675" y2="539.229" stroke="#000" stroke-width="1.8"/>
<line x1="343.475" y1="663.75" x2="343.475" y2="667.25" stroke="#000" stroke-width="1.15"/>
<rect x="359.65" y="567.88" width="18.25" height="95.88" fill="#000"/>
<line x1="368.775" y1="538.729" x2="368.775" y2="568.875" stroke="#000" stroke-width="1.8"/>
<line x1="363.575" y1="539.229" x2="373.97499999999997" y2="539.229" stroke="#000" stroke-width="1.8"/>
<line x1="368.775" y1="663.75" x2="368.775" y2="667.25" stroke="#000" stroke-width="1.15"/>
<rect x="384.95" y="573.82" width="18.25" height="89.93" fill="#000"/>
<line x1="394.075" y1="546.59075" x2="394.075" y2="574.81925" stroke="#000" stroke-width="1.8"/>
<line x1="388.875" y1="547.09075" x2="399.275" y2="547.09075" stroke="#000" stroke-width="1.8"/>
<line x1="394.075" y1="663.75" x2="394.075" y2="667.25" stroke="#000" stroke-width="1.15"/>
<line x1="280.95" y1="471.425" x2="280.95" y2="664.325" stroke="#000" stroke-width="1.15"/>
<line x1="276.45" y1="663.75" x2="407" y2="663.75" stroke="#000" stroke-width="1.15"/>
<line x1="276.45" y1="663.75" x2="280.95" y2="663.75" stroke="#000" stroke-width="1.15"/>
<text x="271.5" y="668.474" font-size="12.8" text-anchor="end">0</text>
<line x1="276.45" y1="625.4" x2="280.95" y2="625.4" stroke="#000" stroke-width="1.15"/>
<text x="271.5" y="629.624" font-size="12.8" text-anchor="end">0.2</text>
<line x1="276.45" y1="587.05" x2="280.95" y2="587.05" stroke="#000" stroke-width="1.15"/>
<text x="271.5" y="591.274" font-size="12.8" text-anchor="end">0.4</text>
<line x1="276.45" y1="548.7" x2="280.95" y2="548.7" stroke="#000" stroke-width="1.15"/>
<text x="271.5" y="552.9240000000001" font-size="12.8" text-anchor="end">0.6</text>
<line x1="276.45" y1="510.35" x2="280.95" y2="510.35" stroke="#000" stroke-width="1.15"/>
<text x="271.5" y="514.5740000000001" font-size="12.8" text-anchor="end">0.8</text>
<line x1="276.45" y1="472.0" x2="280.95" y2="472.0" stroke="#000" stroke-width="1.15"/>
<text x="271.5" y="476.224" font-size="12.8" text-anchor="end">1.0</text>
<text x="336.8" y="479.6" font-size="12.7" font-style="italic">COL1A1</text>
<text x="292.85" y="680.75" font-size="12.6" text-anchor="middle">0</text>
<text x="318.15000000000003" y="680.75" font-size="12.6" text-anchor="middle">1</text>
<text x="343.45000000000005" y="680.75" font-size="12.6" text-anchor="middle">10</text>
<text x="368.75" y="680.75" font-size="12.6" text-anchor="middle">20</text>
<text x="394.05" y="680.75" font-size="12.6" text-anchor="middle">50</text>
<text x="343.15" y="533.57" font-size="16" text-anchor="middle" fill="#111" letter-spacing="-0.7">**</text>
<text x="367.65" y="533.57" font-size="16" text-anchor="middle" fill="#111" letter-spacing="-0.7">**</text>
<text x="393.15" y="541.82" font-size="16" text-anchor="middle" fill="#111" letter-spacing="-0.7">**</text>
<rect x="467.50" y="654.19" width="18.25" height="9.56" fill="#000"/>
<line x1="476.625" y1="663.75" x2="476.625" y2="667.25" stroke="#000" stroke-width="1.15"/>
<rect x="492.80" y="653.23" width="18.25" height="10.52" fill="#000"/>
<line x1="501.925" y1="649.9836" x2="501.925" y2="654.234" stroke="#000" stroke-width="1.8"/>
<line x1="496.725" y1="650.4836" x2="507.125" y2="650.4836" stroke="#000" stroke-width="1.8"/>
<line x1="501.925" y1="663.75" x2="501.925" y2="667.25" stroke="#000" stroke-width="1.15"/>
<rect x="518.10" y="618.24" width="18.25" height="45.51" fill="#000"/>
<line x1="527.225" y1="599.22" x2="527.225" y2="619.2444" stroke="#000" stroke-width="1.8"/>
<line x1="522.025" y1="599.72" x2="532.4250000000001" y2="599.72" stroke="#000" stroke-width="1.8"/>
<line x1="527.225" y1="663.75" x2="527.225" y2="667.25" stroke="#000" stroke-width="1.15"/>
<rect x="543.40" y="548.74" width="18.25" height="115.01" fill="#000"/>
<line x1="552.525" y1="527.0419999999999" x2="552.525" y2="549.7432" stroke="#000" stroke-width="1.8"/>
<line x1="547.3249999999999" y1="527.5419999999999" x2="557.725" y2="527.5419999999999" stroke="#000" stroke-width="1.8"/>
<line x1="552.525" y1="663.75" x2="552.525" y2="667.25" stroke="#000" stroke-width="1.15"/>
<rect x="568.70" y="541.38" width="18.25" height="122.37" fill="#000"/>
<line x1="577.825" y1="492.626" x2="577.825" y2="542.382" stroke="#000" stroke-width="1.8"/>
<line x1="572.625" y1="493.126" x2="583.0250000000001" y2="493.126" stroke="#000" stroke-width="1.8"/>
<line x1="577.825" y1="663.75" x2="577.825" y2="667.25" stroke="#000" stroke-width="1.15"/>
<line x1="463.75" y1="471.925" x2="463.75" y2="664.325" stroke="#000" stroke-width="1.15"/>
<line x1="459.25" y1="663.75" x2="590" y2="663.75" stroke="#000" stroke-width="1.15"/>
<line x1="459.25" y1="663.75" x2="463.75" y2="663.75" stroke="#000" stroke-width="1.15"/>
<text x="454.8" y="668.474" font-size="12.8" text-anchor="end">0</text>
<line x1="459.25" y1="615.95" x2="463.75" y2="615.95" stroke="#000" stroke-width="1.15"/>
<text x="454.8" y="620.1740000000001" font-size="12.8" text-anchor="end">5</text>
<line x1="459.25" y1="568.15" x2="463.75" y2="568.15" stroke="#000" stroke-width="1.15"/>
<text x="454.8" y="572.374" font-size="12.8" text-anchor="end">10</text>
<line x1="459.25" y1="520.35" x2="463.75" y2="520.35" stroke="#000" stroke-width="1.15"/>
<text x="454.8" y="524.5740000000001" font-size="12.8" text-anchor="end">15</text>
<line x1="459.25" y1="472.54999999999995" x2="463.75" y2="472.54999999999995" stroke="#000" stroke-width="1.15"/>
<text x="454.8" y="476.77399999999994" font-size="12.8" text-anchor="end">20</text>
<text x="510.3" y="481.2" font-size="12.7" font-style="italic">MMP1</text>
<text x="476.6" y="680.75" font-size="12.6" text-anchor="middle">0</text>
<text x="501.90000000000003" y="680.75" font-size="12.6" text-anchor="middle">1</text>
<text x="527.2" y="680.75" font-size="12.6" text-anchor="middle">10</text>
<text x="552.5" y="680.75" font-size="12.6" text-anchor="middle">20</text>
<text x="577.8000000000001" y="680.75" font-size="12.6" text-anchor="middle">50</text>
<text x="526.65" y="595.82" font-size="16" text-anchor="middle" fill="#111" letter-spacing="-0.7">*</text>
<text x="552.15" y="524.32" font-size="16" text-anchor="middle" fill="#111" letter-spacing="-0.7">**</text>
<text x="577.15" y="489.32" font-size="16" text-anchor="middle" fill="#111" letter-spacing="-0.7">**</text>
<defs>
<linearGradient id="vg" x1="0" y1="1" x2="1" y2="0"><stop offset="0" stop-color="#000" stop-opacity="0.30"/><stop offset="0.3" stop-color="#000" stop-opacity="0.08"/><stop offset="0.55" stop-color="#000" stop-opacity="0"/><stop offset="0.75" stop-color="#fff" stop-opacity="0.03"/><stop offset="1" stop-color="#fff" stop-opacity="0.10"/></linearGradient>
<radialGradient id="rv" cx="0.52" cy="0.45" r="0.75"><stop offset="0" stop-color="#000" stop-opacity="0"/><stop offset="0.5" stop-color="#000" stop-opacity="0.03"/><stop offset="1" stop-color="#000" stop-opacity="0.3"/></radialGradient>
<linearGradient id="vg2" x1="0" y1="1" x2="1" y2="0"><stop offset="0" stop-color="#000" stop-opacity="0.16"/><stop offset="0.35" stop-color="#000" stop-opacity="0.03"/><stop offset="0.6" stop-color="#000" stop-opacity="0"/><stop offset="1" stop-color="#fff" stop-opacity="0.06"/></linearGradient>
</defs>
<clipPath id="cf1"><rect x="43.75" y="709.7" width="152.4" height="75.2"/></clipPath>
<g clip-path="url(#cf1)">
<rect x="43.75" y="709.70" width="152.40" height="75.20" fill="#8c8c8c"/>
<path d="M79.5 709 L81.5 722 L78.5 735 L81 748 L78 760 L80 772 L77 786 L148 786 L145.5 771 L147.5 757 L144.5 745 L146.5 731 L143.5 719 L145.5 709 Z" fill="#838383" filter="url(#b1)"/><path d="M80 786 L84 778.5 L101 772 L119 768 L125 760 L130 755 L134 746 L139 742 L145 736 L148 786 Z" fill="#717171" filter="url(#b1)"/><path d="M104 730 L108 722 L111 718 L109 728 Z M118 716 L124 712 L121 719 Z" fill="#929292" filter="url(#b1)"/>
<rect x="43.75" y="709.7" width="152.4" height="75.2" filter="url(#tex2)" opacity="0.025"/>
<mask id="cf1m"><rect x="43.75" y="709.7" width="152.4" height="75.2" fill="#fff"/><path d="M79.5 709 L81.5 722 L78.5 735 L81 748 L78 760 L80 772 L77 786 L148 786 L145.5 771 L147.5 757 L144.5 745 L146.5 731 L143.5 719 L145.5 709 Z" fill="#000" filter="url(#b1)"/></mask>
<rect x="43.75" y="709.7" width="152.4" height="75.2" filter="url(#tex)" opacity="0.17" mask="url(#cf1m)"/>
<rect x="43.75" y="709.7" width="152.4" height="75.2" fill="url(#vg2)"/>
<circle cx="74.5" cy="776.5" r="1.88" fill="#606060" filter="url(#b0)" opacity="0.6"/><circle cx="151" cy="742" r="1.75" fill="#555" filter="url(#b0)" opacity="0.6"/><circle cx="187.5" cy="748" r="2.12" fill="#6c6c6c" filter="url(#b0)" opacity="0.6"/><circle cx="150" cy="768" r="1.25" fill="#555" filter="url(#b0)" opacity="0.6"/>
</g>
<clipPath id="cf2"><rect x="204.25" y="709.7" width="152.6" height="75.2"/></clipPath>
<g clip-path="url(#cf2)">
<rect x="204.25" y="709.70" width="152.60" height="75.20" fill="#a0a0a0"/>
<rect x="290" y="705" width="16" height="85" fill="#9c9c9c" filter="url(#b3)"/>
<rect x="204.25" y="709.7" width="152.6" height="75.2" filter="url(#tex2)" opacity="0.025"/>
<rect x="204.25" y="709.7" width="152.6" height="75.2" filter="url(#tex)" opacity="0.15"/>
<rect x="204.25" y="709.7" width="152.6" height="75.2" fill="url(#vg)"/>
<rect x="204.25" y="709.7" width="152.6" height="75.2" fill="url(#rv)"/>
<circle cx="215" cy="751" r="1.38" fill="#707070" filter="url(#b0)" opacity="0.6"/><circle cx="260" cy="755" r="1.62" fill="#707070" filter="url(#b0)" opacity="0.6"/><circle cx="284" cy="747" r="1.25" fill="#6a6a6a" filter="url(#b0)" opacity="0.6"/><circle cx="326.5" cy="756" r="2.00" fill="#626262" filter="url(#b0)" opacity="0.6"/><circle cx="346.5" cy="764.5" r="2.38" fill="#6c6c6c" filter="url(#b0)" opacity="0.6"/><circle cx="236" cy="767" r="2.00" fill="#787878" filter="url(#b0)" opacity="0.6"/><circle cx="304" cy="719" r="2.00" fill="#808080" filter="url(#b0)" opacity="0.6"/><circle cx="281" cy="723" r="1.00" fill="#707070" filter="url(#b0)" opacity="0.6"/>
</g>
<clipPath id="cf3"><rect x="43.75" y="809.7" width="152.4" height="74.5"/></clipPath>
<g clip-path="url(#cf3)">
<rect x="43.75" y="809.70" width="152.40" height="74.50" fill="#979797"/>
<path d="M100 809 L102 825 L98 840 L101 856 L97 870 L99 885 L139 885 L142 868 L138 852 L141 838 L137 822 L139 809 Z" fill="#8a8a8a" filter="url(#b3)"/>
<rect x="43.75" y="809.7" width="152.4" height="74.5" filter="url(#tex2)" opacity="0.025"/>
<mask id="cf3m"><rect x="43.75" y="809.7" width="152.4" height="74.5" fill="#fff"/><path d="M100 809 L102 825 L98 840 L101 856 L97 870 L99 885 L139 885 L142 868 L138 852 L141 838 L137 822 L139 809 Z" fill="#555" filter="url(#b3)"/></mask>
<rect x="43.75" y="809.7" width="152.4" height="74.5" filter="url(#tex)" opacity="0.16" mask="url(#cf3m)"/>
<rect x="43.75" y="809.7" width="152.4" height="74.5" fill="url(#vg)"/>
<rect x="43.75" y="809.7" width="152.4" height="74.5" fill="url(#rv)"/>
<circle cx="129" cy="859" r="1.25" fill="#333" filter="url(#b0)" opacity="0.6"/><circle cx="69.5" cy="860" r="2.12" fill="#6a6a6a" filter="url(#b0)" opacity="0.6"/><circle cx="140" cy="817" r="1.12" fill="#666" filter="url(#b0)" opacity="0.6"/><circle cx="146" cy="882" r="1.25" fill="#555" filter="url(#b0)" opacity="0.6"/>
</g>
<clipPath id="cf4"><rect x="204.25" y="809.7" width="152.6" height="74.5"/></clipPath>
<g clip-path="url(#cf4)">
<rect x="204.25" y="809.70" width="152.60" height="74.50" fill="#989898"/>
<path d="M268 850 L300 845 L318 860 L300 885 L262 885 Z" fill="#909090" filter="url(#b3)"/>
<rect x="204.25" y="809.7" width="152.6" height="74.5" filter="url(#tex2)" opacity="0.025"/>
<rect x="204.25" y="809.7" width="152.6" height="74.5" filter="url(#tex)" opacity="0.14"/>
<rect x="204.25" y="809.7" width="152.6" height="74.5" fill="url(#vg)"/>
<rect x="204.25" y="809.7" width="152.6" height="74.5" fill="url(#rv)"/>
<circle cx="310.5" cy="831" r="2.25" fill="#747474" filter="url(#b0)" opacity="0.6"/><circle cx="343.5" cy="847" r="2.12" fill="#5c5c5c" filter="url(#b0)" opacity="0.6"/><circle cx="260" cy="843" r="1.38" fill="#707070" filter="url(#b0)" opacity="0.6"/><circle cx="254" cy="823" r="1.25" fill="#6a6a6a" filter="url(#b0)" opacity="0.6"/><circle cx="225" cy="863" r="2.00" fill="#787878" filter="url(#b0)" opacity="0.6"/><circle cx="258" cy="811" r="1.00" fill="#333" filter="url(#b0)" opacity="0.6"/><circle cx="332" cy="865" r="1.62" fill="#7c7c7c" filter="url(#b0)" opacity="0.6"/><circle cx="209" cy="852" r="1.00" fill="#444" filter="url(#b0)" opacity="0.6"/>
</g>
<text x="119.75" y="704.6" font-size="13" text-anchor="middle">Control</text>
<text x="280" y="704.6" font-size="13" text-anchor="middle">TGF-β1</text>
<text x="120" y="804.6" font-size="13" text-anchor="middle">TGF-β1 + AdipoRon</text>
<text x="280.25" y="804.6" font-size="13" text-anchor="middle">AdipoRon</text>
<rect x="473.30" y="730.44" width="16.20" height="129.06" fill="#000"/>
<line x1="481.4" y1="724.40375" x2="481.4" y2="731.43625" stroke="#000" stroke-width="1.8"/>
<line x1="477.4" y1="724.90375" x2="485.4" y2="724.90375" stroke="#000" stroke-width="1.8"/>
<line x1="481.4" y1="859.5" x2="481.4" y2="862.5" stroke="#000" stroke-width="1.15"/>
<rect x="496.20" y="822.99" width="16.20" height="36.51" fill="#000"/>
<line x1="504.29999999999995" y1="819.495" x2="504.29999999999995" y2="823.9875" stroke="#000" stroke-width="1.8"/>
<line x1="500.29999999999995" y1="819.995" x2="508.29999999999995" y2="819.995" stroke="#000" stroke-width="1.8"/>
<line x1="504.29999999999995" y1="859.5" x2="504.29999999999995" y2="862.5" stroke="#000" stroke-width="1.15"/>
<rect x="518.80" y="774.57" width="16.20" height="84.93" fill="#000"/>
<line x1="526.9" y1="768.85375" x2="526.9" y2="775.56875" stroke="#000" stroke-width="1.8"/>
<line x1="522.9" y1="769.35375" x2="530.9" y2="769.35375" stroke="#000" stroke-width="1.8"/>
<line x1="526.9" y1="859.5" x2="526.9" y2="862.5" stroke="#000" stroke-width="1.15"/>
<rect x="541.30" y="765.84" width="16.20" height="93.66" fill="#000"/>
<line x1="549.4" y1="761.23375" x2="549.4" y2="766.8375" stroke="#000" stroke-width="1.8"/>
<line x1="545.4" y1="761.73375" x2="553.4" y2="761.73375" stroke="#000" stroke-width="1.8"/>
<line x1="549.4" y1="859.5" x2="549.4" y2="862.5" stroke="#000" stroke-width="1.15"/>
<line x1="470" y1="700.175" x2="470" y2="860.075" stroke="#000" stroke-width="1.15"/>
<line x1="465.5" y1="859.5" x2="560" y2="859.5" stroke="#000" stroke-width="1.15"/>
<line x1="465.5" y1="859.5" x2="470" y2="859.5" stroke="#000" stroke-width="1.15"/>
<text x="463" y="861.825" font-size="12.5" text-anchor="end">0</text>
<line x1="465.5" y1="827.75" x2="470" y2="827.75" stroke="#000" stroke-width="1.15"/>
<text x="463" y="831.875" font-size="12.5" text-anchor="end">0.2</text>
<line x1="465.5" y1="796.0" x2="470" y2="796.0" stroke="#000" stroke-width="1.15"/>
<text x="463" y="800.125" font-size="12.5" text-anchor="end">0.4</text>
<line x1="465.5" y1="764.25" x2="470" y2="764.25" stroke="#000" stroke-width="1.15"/>
<text x="463" y="768.375" font-size="12.5" text-anchor="end">0.6</text>
<line x1="465.5" y1="732.5" x2="470" y2="732.5" stroke="#000" stroke-width="1.15"/>
<text x="463" y="736.625" font-size="12.5" text-anchor="end">0.8</text>
<line x1="465.5" y1="700.75" x2="470" y2="700.75" stroke="#000" stroke-width="1.15"/>
<text x="463" y="704.875" font-size="12.5" text-anchor="end">1.0</text>
<text x="438.6" y="781" font-size="15.4" text-anchor="middle" transform="rotate(-90 438.6 781)">Gap width (mm)</text>
<text x="463" y="872.3" font-size="10.3" text-anchor="end">AdipoRon</text>
<text x="463" y="881" font-size="10.3" text-anchor="end">TGF-β1</text>
<text x="481.40000000000003" y="872.7" font-size="10.3" text-anchor="middle" fill="#222">-</text>
<text x="481.40000000000003" y="882.2" font-size="10.3" text-anchor="middle" fill="#222">-</text>
<text x="504.3" y="872.7" font-size="10.3" text-anchor="middle" fill="#222">-</text>
<text x="504.3" y="882.2" font-size="10.3" text-anchor="middle" fill="#222">+</text>
<text x="526.9" y="872.7" font-size="10.3" text-anchor="middle" fill="#222">+</text>
<text x="526.9" y="882.2" font-size="10.3" text-anchor="middle" fill="#222">+</text>
<text x="549.4" y="872.7" font-size="10.3" text-anchor="middle" fill="#222">+</text>
<text x="549.4" y="882.2" font-size="10.3" text-anchor="middle" fill="#222">-</text>
<text x="503.4" y="814.5425" font-size="16.5" text-anchor="middle" fill="#111" letter-spacing="-0.7">**</text>
</svg></body></html>
